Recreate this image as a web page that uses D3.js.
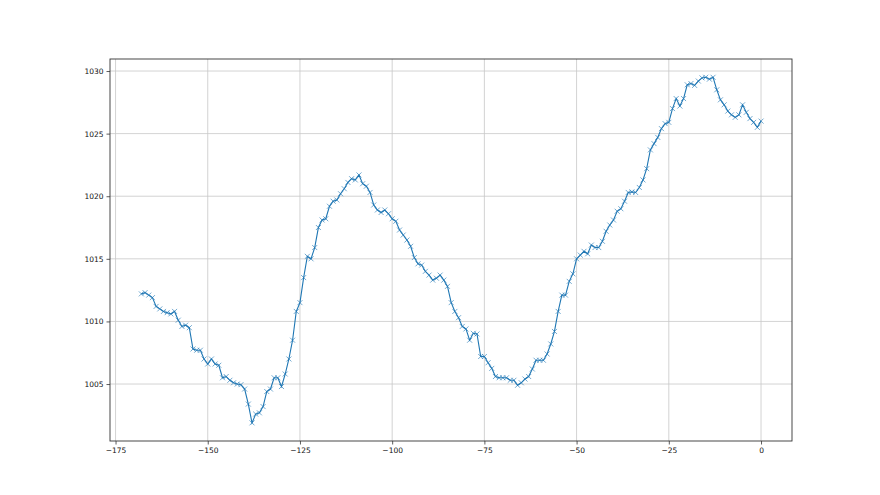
<!DOCTYPE html>
<html>
  <head>
    <meta charset="utf-8">
    <title>Pressure</title>
    <script src="https://d3js.org/d3.v7.min.js"></script>
    <style>
      body { margin: 0; background: #fff; }
      text { font-family: "DejaVu Sans", sans-serif; }
    </style>
  </head>
  <body>
    <script>

      // hours before now
      var hours = [
        -168,-167,-166,-165,-164,-163,-162,-161,-160,-159,-158,-157,-156,-155,-154,-153,-152,-151,-150,-149,
        -148,-147,-146,-145,-144,-143,-142,-141,-140,-139,-138,-137,-136,-135,-134,-133,-132,-131,-130,-129,
        -128,-127,-126,-125,-124,-123,-122,-121,-120,-119,-118,-117,-116,-115,-114,-113,-112,-111,-110,-109,
        -108,-107,-106,-105,-104,-103,-102,-101,-100,-99,-98,-97,-96,-95,-94,-93,-92,-91,-90,-89,
        -88,-87,-86,-85,-84,-83,-82,-81,-80,-79,-78,-77,-76,-75,-74,-73,-72,-71,-70,-69,
        -68,-67,-66,-65,-64,-63,-62,-61,-60,-59,-58,-57,-56,-55,-54,-53,-52,-51,-50,-49,
        -48,-47,-46,-45,-44,-43,-42,-41,-40,-39,-38,-37,-36,-35,-34,-33,-32,-31,-30,-29,
        -28,-27,-26,-25,-24,-23,-22,-21,-20,-19,-18,-17,-16,-15,-14,-13,-12,-11,-10,-9,
        -8,-7,-6,-5,-4,-3,-2,-1,0
      ];

      // pressure readings
      var pressure = [
        1012.2,1012.3,1012.1,1011.9,1011.2,1011.0,1010.8,1010.7,1010.6,1010.8,1010.1,1009.6,1009.7,1009.5,1007.8,1007.7,1007.7,1007.0,1006.6,1007.0,
        1006.6,1006.5,1005.5,1005.6,1005.3,1005.1,1005.0,1004.95,1004.6,1003.4,1001.9,1002.6,1002.7,1003.2,1004.4,1004.6,1005.5,1005.5,1004.8,1005.8,
        1007.0,1008.5,1010.8,1011.5,1013.5,1015.2,1015.0,1015.9,1017.5,1018.1,1018.2,1019.2,1019.6,1019.7,1020.2,1020.6,1021.1,1021.4,1021.3,1021.7,
        1021.0,1020.8,1020.3,1019.3,1018.9,1018.7,1018.9,1018.6,1018.2,1018.0,1017.3,1016.9,1016.5,1016.0,1015.1,1014.6,1014.5,1014.0,1013.7,1013.3,
        1013.45,1013.7,1013.3,1012.8,1011.5,1010.8,1010.3,1009.6,1009.4,1008.5,1009.05,1009.0,1007.2,1007.2,1006.7,1006.25,1005.6,1005.5,1005.5,1005.5,
        1005.3,1005.3,1004.9,1005.1,1005.4,1005.6,1006.2,1006.9,1006.9,1006.9,1007.4,1008.2,1009.2,1010.8,1012.1,1012.1,1013.2,1013.8,1015.0,1015.3,
        1015.6,1015.4,1016.1,1015.9,1015.9,1016.4,1017.2,1017.7,1018.1,1018.8,1019.0,1019.6,1020.3,1020.35,1020.3,1020.7,1021.3,1022.2,1023.7,1024.2,
        1024.7,1025.4,1025.8,1025.9,1027.0,1027.8,1027.2,1027.8,1028.9,1029.0,1028.85,1029.2,1029.45,1029.5,1029.35,1029.5,1028.5,1027.7,1027.3,1026.8,
        1026.5,1026.3,1026.5,1027.3,1026.7,1026.2,1025.9,1025.5,1026.0
      ];

      var xTicks = [-175, -150, -125, -100, -75, -50, -25, 0];
      var yTicks = [1005, 1010, 1015, 1020, 1025, 1030];

      var W = 880, H = 495;
      var plotL = 110, plotR = 792, plotT = 59, plotB = 441;

      var svg = d3.select("body")
                  .append("svg")
                  .attr("width", W)
                  .attr("height", H);

      var x = d3.scaleLinear().domain([-176.5, 8.4]).range([plotL, plotR]);
      var y = d3.scaleLinear().domain([1000.45, 1030.96]).range([plotB, plotT]);

      // grid
      svg.append("g").selectAll("line")
         .data(xTicks)
         .enter().append("line")
         .attr("x1", function(d) { return x(d); })
         .attr("x2", function(d) { return x(d); })
         .attr("y1", plotT).attr("y2", plotB)
         .attr("stroke", "#c8c8c8").attr("stroke-width", 0.8);

      svg.append("g").selectAll("line")
         .data(yTicks)
         .enter().append("line")
         .attr("y1", function(d) { return y(d); })
         .attr("y2", function(d) { return y(d); })
         .attr("x1", plotL).attr("x2", plotR)
         .attr("stroke", "#c8c8c8").attr("stroke-width", 0.8);

      // axes
      var fmt = function(d) { return d < 0 ? "\u2212" + Math.abs(d) : String(d); };

      var xAxis = svg.append("g")
         .attr("transform", "translate(0," + plotB + ")")
         .call(d3.axisBottom(x).tickValues(xTicks).tickFormat(fmt).tickSize(3.5).tickPadding(3));

      var yAxis = svg.append("g")
         .attr("transform", "translate(" + plotL + ",0)")
         .call(d3.axisLeft(y).tickValues(yTicks).tickFormat(d3.format("d")).tickSize(3.5).tickPadding(3));

      [xAxis, yAxis].forEach(function(a) {
        a.select(".domain").remove();
        a.selectAll("line").attr("stroke", "#333").attr("stroke-width", 0.8);
        a.selectAll("text").attr("font-size", "7.5px").attr("fill", "#111")
         .attr("font-family", "'DejaVu Sans', sans-serif");
      });

      // frame
      svg.append("rect")
         .attr("x", plotL).attr("y", plotT)
         .attr("width", plotR - plotL).attr("height", plotB - plotT)
         .attr("fill", "none").attr("stroke", "#333").attr("stroke-width", 0.9);

      // line
      var pts = hours.map(function(h, i) { return [h, pressure[i]]; });

      var line = d3.line()
                   .x(function(d) { return x(d[0]); })
                   .y(function(d) { return y(d[1]); });

      svg.append("path")
         .datum(pts)
         .attr("d", line)
         .attr("fill", "none")
         .attr("stroke", "#1f77b4")
         .attr("stroke-width", 1.1);

      // x markers
      var m = 2.5;
      svg.append("g").selectAll("path")
         .data(pts)
         .enter().append("path")
         .attr("d", function(d) {
           var cx = x(d[0]), cy = y(d[1]);
           return "M" + (cx - m) + "," + (cy - m) + "L" + (cx + m) + "," + (cy + m) +
                  "M" + (cx - m) + "," + (cy + m) + "L" + (cx + m) + "," + (cy - m);
         })
         .attr("stroke", "#1f77b4")
         .attr("stroke-opacity", 0.75)
         .attr("stroke-width", 0.85)
         .attr("fill", "none");

    </script>
  </body>
</html>
